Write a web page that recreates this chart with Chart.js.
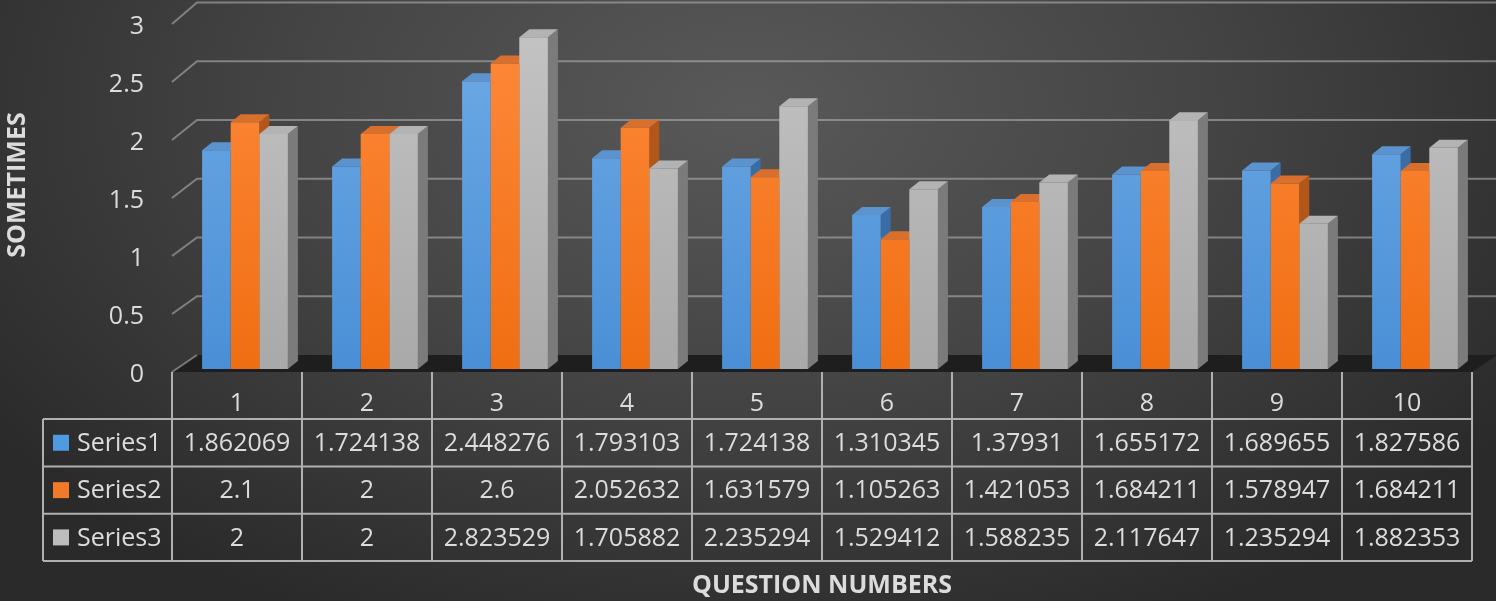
<!DOCTYPE html>
<html>
<head>
<meta charset="utf-8">
<script src="https://cdn.jsdelivr.net/npm/chart.js@4.4.1/dist/chart.umd.min.js"></script>
<style>
  html, body { margin: 0; padding: 0; }
  body {
    width: 1496px; height: 601px; overflow: hidden;
    background: radial-gradient(ellipse 62% 95% at 50% 18%, #595959 0%, #444444 50%, #2a2a2a 100%);
  }
  #chart { display: block; }
</style>
</head>
<body>
<canvas id="chart" width="1496" height="601"></canvas>
<script>
// Question scores, three series
const questions = ['1', '2', '3', '4', '5', '6', '7', '8', '9', '10'];
const series1 = [1.862069, 1.724138, 2.448276, 1.793103, 1.724138, 1.310345, 1.37931, 1.655172, 1.689655, 1.827586];
const series2 = [2.1, 2, 2.6, 2.052632, 1.631579, 1.105263, 1.421053, 1.684211, 1.578947, 1.684211];
const series3 = [2, 2, 2.823529, 1.705882, 2.235294, 1.529412, 1.588235, 2.117647, 1.235294, 1.882353];
const seriesNames = ['Series1', 'Series2', 'Series3'];
const yTicks = [0, 0.5, 1, 1.5, 2, 2.5, 3];

//  Palette 
const FACE = [
  { top: '#6fabe6', bottom: '#4a8fd6', lid: '#5b93cf', side: '#3a6ca6', key: '#4f9be0' },
  { top: '#ff8a3c', bottom: '#f06e12', lid: '#d86f2c', side: '#b2561a', key: '#f07a28' },
  { top: '#c4c4c4', bottom: '#a9a9a9', lid: '#b3b3b3', side: '#7b7b7b', key: '#bdbdbd' }
];
const TEXT = '#dcdcdc';
const GRID = 'rgba(175,175,175,0.6)';
const TABLE_LINE = '#b0b0b0';
const FONT = "'Open Sans', sans-serif";

//  3D geometry 
const BAR_DX = 10, BAR_DY = -8;    // bar depth
const WALL_DX = 25, WALL_DY = -17; // side wall depth
const GROUP_SHIFT = 8;             // bars sit slightly right of table columns

function frontY(y, v) { return y.getPixelForValue(0) + 3 - (y.getPixelForValue(0) - y.getPixelForValue(v)) * 0.987; }
function backY(y, v)  { return y.getPixelForValue(0) + 3 + WALL_DY - (y.getPixelForValue(0) - y.getPixelForValue(v)); }

function vGrad(ctx, area, c1, c2) {
  const g = ctx.createLinearGradient(0, area.top, 0, area.bottom);
  g.addColorStop(0, c1);
  g.addColorStop(1, c2);
  return g;
}

const scene3d = {
  id: 'scene3d',
  beforeDatasetsDraw(chart) {
    const { ctx, scales: { x, y } } = chart;
    const left = x.left - GROUP_SHIFT;
    const right = x.right - GROUP_SHIFT;
    ctx.save();

    // floor
    const f0 = frontY(y, 0), b0 = backY(y, 0);
    ctx.fillStyle = '#1e1e1e';
    ctx.beginPath();
    ctx.moveTo(left, f0);
    ctx.lineTo(right, f0);
    ctx.lineTo(right + WALL_DX, b0);
    ctx.lineTo(left + WALL_DX, b0);
    ctx.closePath();
    ctx.fill();

    // side wall diagonals and back wall gridlines
    ctx.strokeStyle = GRID;
    ctx.lineWidth = 2;
    yTicks.forEach(v => {
      const fy = frontY(y, v), by = backY(y, v);
      ctx.beginPath();
      ctx.moveTo(left, fy);
      ctx.lineTo(left + WALL_DX, by);
      if (v > 0) ctx.lineTo(chart.width, by);
      ctx.stroke();
    });

    // tick labels
    ctx.fillStyle = TEXT;
    ctx.font = '25px ' + FONT;
    ctx.textAlign = 'right';
    ctx.textBaseline = 'middle';
    yTicks.forEach(v => ctx.fillText(String(v), left - 28, frontY(y, v) + 3));

    // bar tops and right sides (fronts are drawn by Chart.js afterwards)
    for (let d = 0; d < chart.data.datasets.length; d++) {
      const meta = chart.getDatasetMeta(d);
      meta.data.forEach(bar => {
        const x0 = bar.x - bar.width / 2, x1 = bar.x + bar.width / 2;
        const yt = bar.y, yb = bar.base;
        ctx.fillStyle = FACE[d].side;
        ctx.beginPath();
        ctx.moveTo(x1, yt);
        ctx.lineTo(x1 + BAR_DX, yt + BAR_DY);
        ctx.lineTo(x1 + BAR_DX, yb + BAR_DY);
        ctx.lineTo(x1, yb);
        ctx.closePath();
        ctx.fill();
        ctx.fillStyle = FACE[d].lid;
        ctx.beginPath();
        ctx.moveTo(x0, yt);
        ctx.lineTo(x0 + BAR_DX, yt + BAR_DY);
        ctx.lineTo(x1 + BAR_DX, yt + BAR_DY);
        ctx.lineTo(x1, yt);
        ctx.closePath();
        ctx.fill();
      });
    }
    ctx.restore();
  },

  afterDraw(chart) {
    const { ctx, scales: { x, y } } = chart;
    const half = (x.getPixelForValue(1) - x.getPixelForValue(0)) / 2;
    const cols = questions.map((q, i) => x.getPixelForValue(i) - GROUP_SHIFT);
    const tableLeft = 43;
    const tableRight = cols[cols.length - 1] + half;
    const headTop = frontY(y, 0);
    const rows = [419, 466.5, 513.8, 561];
    ctx.save();

    // grid of the data table
    ctx.strokeStyle = TABLE_LINE;
    ctx.lineWidth = 2;
    ctx.beginPath();
    rows.forEach(ry => { ctx.moveTo(tableLeft, ry); ctx.lineTo(tableRight, ry); });
    ctx.moveTo(tableLeft, rows[0]); ctx.lineTo(tableLeft, rows[3]);
    for (let i = 0; i <= cols.length; i++) {
      const cx = cols[0] - half + i * half * 2;
      ctx.moveTo(cx, headTop); ctx.lineTo(cx, rows[3]);
    }
    ctx.stroke();

    // category numbers
    ctx.fillStyle = TEXT;
    ctx.font = '25px ' + FONT;
    ctx.textAlign = 'center';
    ctx.textBaseline = 'middle';
    questions.forEach((q, i) => ctx.fillText(q, cols[i], 404));

    // series rows
    chart.data.datasets.forEach((ds, d) => {
      const cy = (rows[d] + rows[d + 1]) / 2;
      ctx.fillStyle = FACE[d].key;
      ctx.fillRect(53, cy - 8, 16, 16);
      ctx.fillStyle = TEXT;
      ctx.textAlign = 'left';
      ctx.fillText(ds.label, 77, cy + 1);
      ctx.textAlign = 'center';
      ds.data.forEach((v, i) => ctx.fillText(String(v), cols[i], cy + 1));
    });

    // axis titles
    ctx.font = 'bold 25px ' + FONT;
    ctx.fillText('QUESTION NUMBERS', 822, 586);
    ctx.translate(18, 185);
    ctx.rotate(-Math.PI / 2);
    ctx.fillText('SOMETIMES', 0, 0);
    ctx.restore();
  }
};

const datasets = [series1, series2, series3].map((data, d) => ({
  label: seriesNames[d],
  data,
  backgroundColor: c => vGrad(c.chart.ctx, c.chart.chartArea || { top: 0, bottom: 600 }, FACE[d].top, FACE[d].bottom),
  borderWidth: 0,
  categoryPercentage: 0.66,
  barPercentage: 1.0
}));

new Chart(document.getElementById('chart'), {
  type: 'bar',
  data: { labels: questions, datasets },
  options: {
    responsive: false,
    animation: false,
    layout: { padding: { left: 180, right: 16, top: 16.5, bottom: 232 } },
    plugins: { legend: { display: false }, tooltip: { enabled: false } },
    scales: {
      x: { display: false },
      y: { display: false, min: 0, max: 3, ticks: { stepSize: 0.5 } }
    }
  },
  plugins: [scene3d]
});
</script>
</body>
</html>
